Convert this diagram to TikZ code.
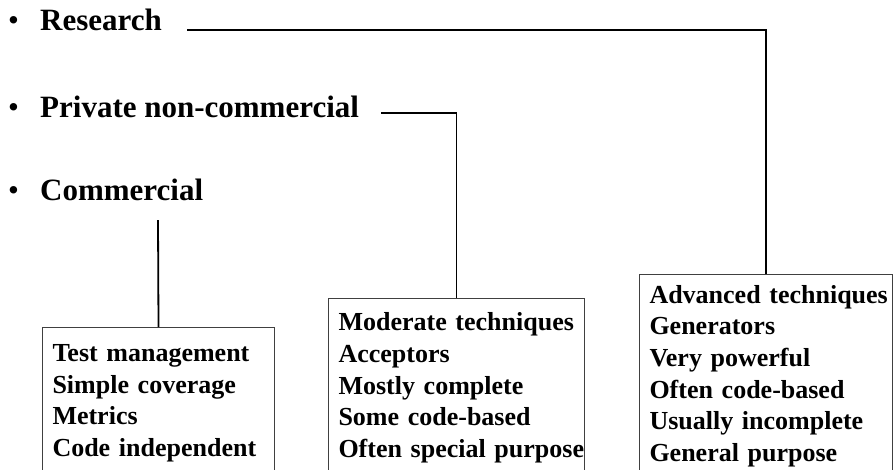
\documentclass[tikz,border=0pt]{standalone}
\usepackage{fontspec}
\setmainfont{Liberation Serif}
\usepackage{array}
\begin{document}
\begin{tikzpicture}[x=1pt,y=-1pt,
  heading/.style={anchor=base west, inner sep=0pt,
    font=\fontsize{31}{37}\selectfont\bfseries},
  bulletmark/.style={anchor=base west, inner sep=0pt,
    font=\fontsize{31}{37}\selectfont},
  link/.style={line width=1.8pt},
  infobox/.style={draw=black!75, line width=1pt, anchor=north west,
    align=left, inner xsep=10pt,
    font=\fontsize{26}{31.6}\selectfont\bfseries}]
  \useasboundingbox (0,0) rectangle (894,469);
  \clip (0,0) rectangle (894,469);

  % bulleted categories
  \node[bulletmark] (b1) at (8,30) {•};
  \node[bulletmark] (b2) at (8,117) {•};
  \node[bulletmark] (b3) at (8,200) {•};
  \node[heading] (research) at (40,30) {Research};
  \node[heading] (private) at (40,117) {Private non-commercial};
  \node[heading] (commercial) at (40,200) {Commercial};

  % characteristic boxes (bottom edges run off the page)
  \node[infobox, inner ysep=11.9pt, text width=212pt] (cbox) at (42,327)
    {\begin{tabular}{@{}l@{}}Test management\\Simple coverage\\Metrics\\Code independent\end{tabular}};
  \node[infobox, inner ysep=10.3pt, text width=236pt] (pbox) at (328,298)
    {\begin{tabular}{@{}l@{}}Moderate techniques\\Acceptors\\Mostly complete\\Some code-based\\Often special purpose\end{tabular}};
  \node[infobox, inner ysep=6.6pt, text width=233pt] (rbox) at (639,274)
    {\begin{tabular}{@{}l@{}}Advanced techniques\\Generators\\Very powerful\\Often code-based\\Usually incomplete\\General purpose\end{tabular}};

  % connectors
  \draw[link] ([xshift=25pt]research.base east) -| (rbox.north);
  \draw[link] ([xshift=22pt,yshift=4pt]private.base east) -| (pbox.north);
  \coordinate (cstart) at (158,220);
  \draw[link] (cstart) -- (cbox.north);
\end{tikzpicture}
\end{document}
